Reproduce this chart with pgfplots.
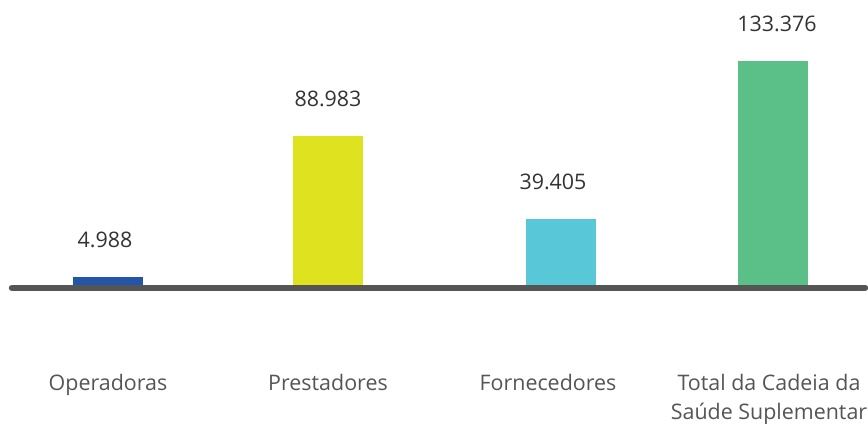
\documentclass[border=0pt]{standalone}
\usepackage{pgfplots}
\pgfplotsset{compat=1.18}
\usepackage{fontspec}
\setmainfont{Open Sans}
\definecolor{cOp}{HTML}{2356A8}
\definecolor{cPr}{HTML}{DFE21F}
\definecolor{cFo}{HTML}{58C8D8}
\definecolor{cTo}{HTML}{5BBF88}
\definecolor{cLine}{HTML}{555555}
\definecolor{cNum}{HTML}{333333}
\definecolor{cLab}{HTML}{555555}
\begin{document}
\begin{tikzpicture}
\useasboundingbox (0,0) rectangle (868bp,424bp);
\begin{axis}[
  at={(0,0)}, anchor=south west,
  scale only axis, width=868bp, height=424bp,
  xmin=0, xmax=868, ymin=-82817, ymax=169805,
  axis line style={draw=none},
  ytick=\empty,
  xtick={108,328,548,769},
  xticklabels={Operadoras,Prestadores,Fornecedores,{Total da Cadeia da\\Saúde Suplementar}},
  major tick length=0pt,
  xticklabel style={anchor=north, align=center, yshift=50bp, font=\fontsize{21.5}{29}\selectfont, text=cLab, inner sep=0pt},
  clip=false,
  ybar, bar width=70, bar shift=0pt,
  nodes near coords,
  nodes near coords style={anchor=center, yshift=37bp, font=\fontsize{21.5}{24}\selectfont, text=cNum,
    /pgf/number format/fixed, /pgf/number format/precision=0, /pgf/number format/1000 sep={.}, /pgf/number format/assume math mode=true},
]
\addplot[sharp plot, draw=cLine, line width=6.5bp, line cap=round, nodes near coords={}, forget plot]
  coordinates {(12,-1700) (865,-1700)};
\addplot[fill=cOp, draw=none, every node near coord/.append style={xshift=-3bp}] coordinates {(108,4988)};
\addplot[fill=cPr, draw=none] coordinates {(328,88983)};
\addplot[fill=cFo, draw=none, every node near coord/.append style={xshift=-8bp}] coordinates {(561,39405)};
\addplot[fill=cTo, draw=none, every node near coord/.append style={xshift=4bp}] coordinates {(773,133376)};
\end{axis}
\end{tikzpicture}
\end{document}
